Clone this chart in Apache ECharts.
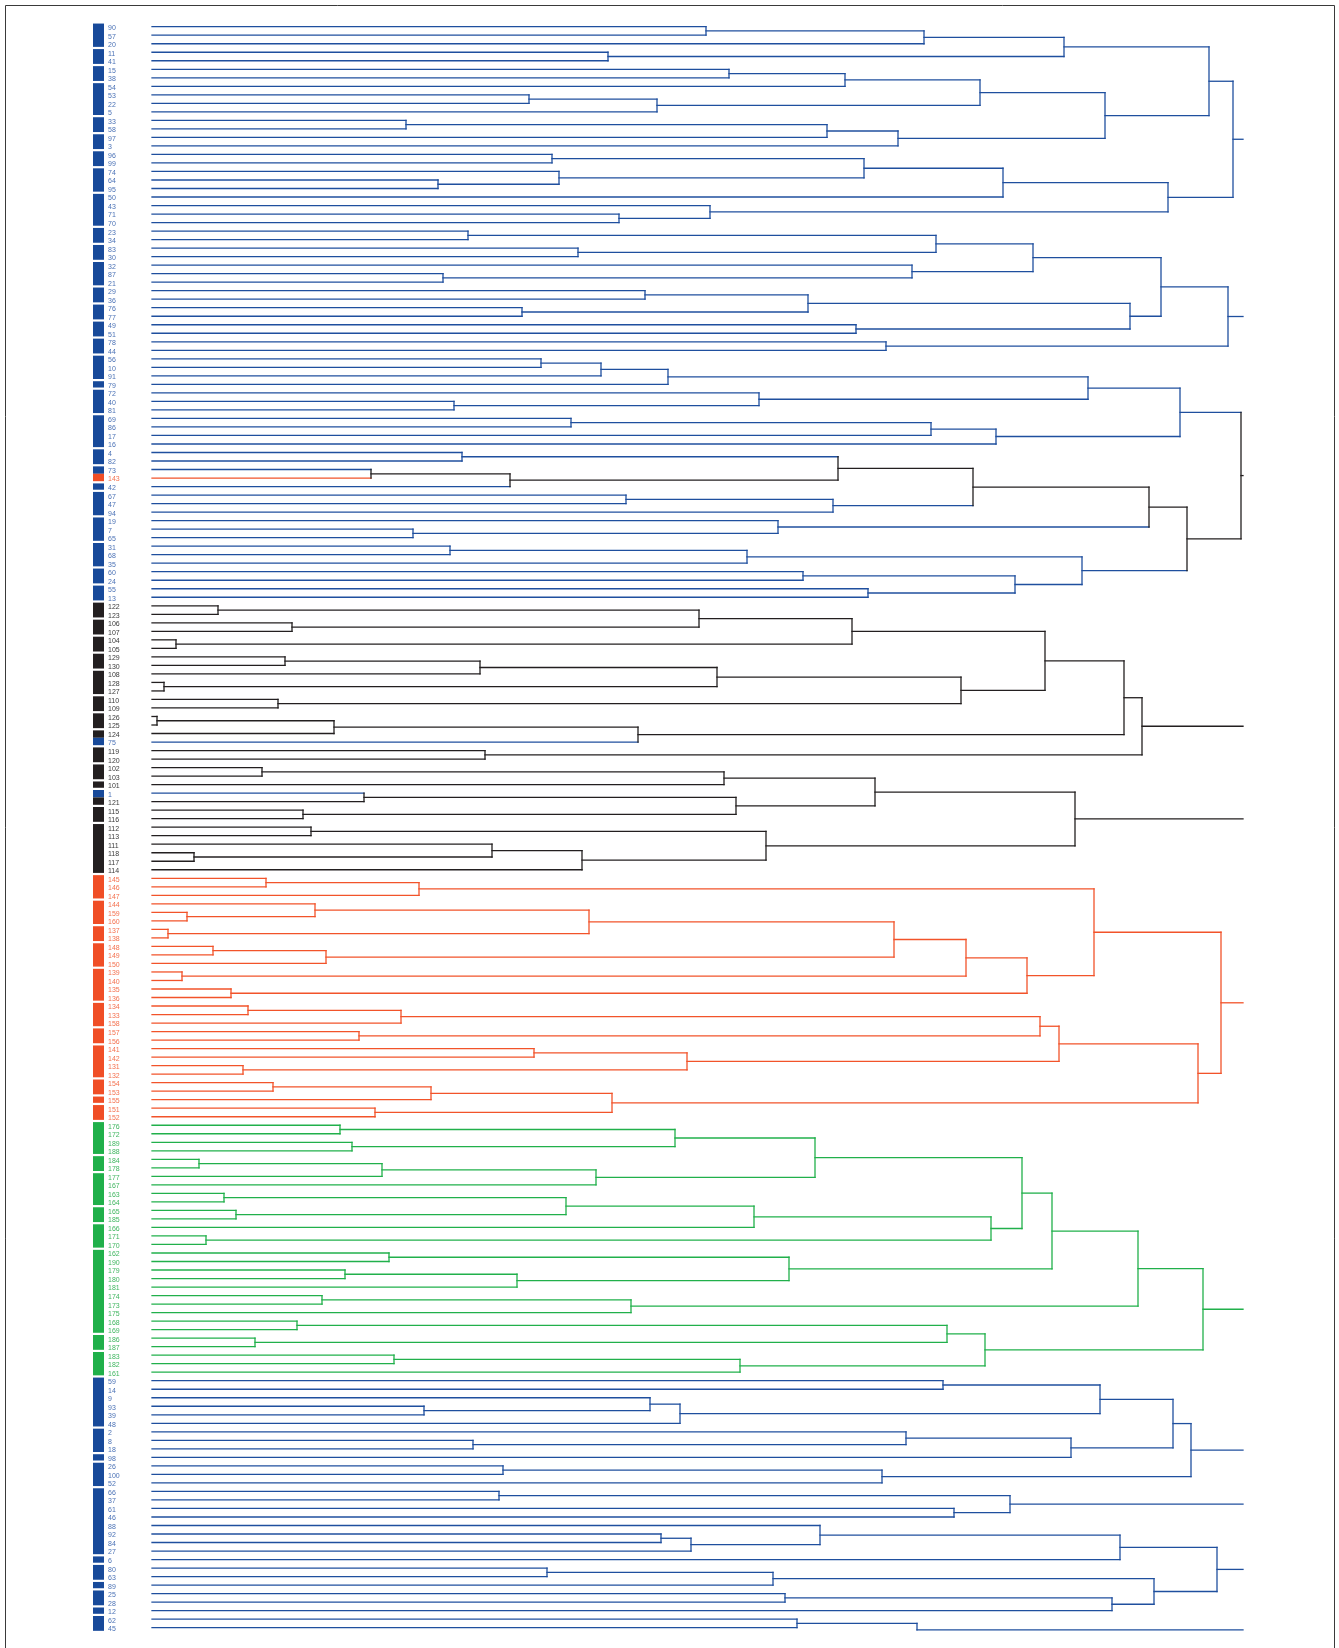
<!DOCTYPE html>
<html><head><meta charset="utf-8">
<script src="https://cdn.jsdelivr.net/npm/echarts@6/dist/echarts.min.js"></script>
<style>html,body{margin:0;padding:0;background:#fff}#c{width:1339px;height:1648px}</style>
</head><body><div id="c"></div>
<script>
// Leaf labels in display order (top to bottom)
const leafLabels = [
'90','57','20','11','41','15','38','54','53','22','5','33','58','97','3','96','99','74','64','95','50','43','71','70',
'23','34','83','30','32','87','21','29','36','76','77','49','51','78','44','56','10','91','79','72','40','81','69','86',
'17','16','4','82','73','143','42','67','47','94','19','7','65','31','68','35','60','24','55','13','122','123','106','107',
'104','105','129','130','108','128','127','110','109','126','125','124','75','119','120','102','103','101','1','121','115','116','112','113',
'111','118','117','114','145','146','147','144','159','160','137','138','148','149','150','139','140','135','136','134','133','158','157','156',
'141','142','131','132','154','153','155','151','152','176','172','189','188','184','178','177','167','163','164','165','185','166','171','170',
'162','190','179','180','181','174','173','175','168','169','186','187','183','182','161','59','14','9','93','39','48','2','8','18',
'98','26','100','52','66','37','61','46','88','92','84','27','6','80','63','89','25','28','12','62','45'
];
// class upper bounds of sample numbers: blue <=100, black <=130, red <=160, green <=190
const classBounds = [[100,'blue'],[130,'black'],[160,'red'],[190,'green']];
// sizes of the blocks of the left colour strip (consecutive leaves)
const stripBlocks = [3,2,2,4,2,2,2,3,4, 2,2,3,2,2,2,2, 3,1,3,4, 2,2,1,3,3,3,2,2,
 2,2,2,2,3,2,2,2,2,2,1,2,2,6, 3,3,2,3,4,3,2, 4,2,1,2, 4,2,4,2,3, 10,2,3, 6,3, 1,3,8,1,2,1,2,1,2];
// merges: [node, childA, childB, height]
const merges = [
['A1','90','57',554],['A2','A1','20',772],['A3','11','41',456],['A4','A2','A3',912],
['A5','15','38',577],['A6','A5','54',693],['A7','53','22',377],['A8','A7','5',505],['A9','A6','A8',828],
['A10','33','58',254],['A11','A10','97',675],['A12','A11','3',746],['A13','A9','A12',953],['A14','A4','A13',1057],
['B1','96','99',400],['B2','64','95',286],['B3','74','B2',407],['B4','B1','B3',712],['B5','B4','50',851],
['B6','71','70',467],['B7','43','B6',558],['B8','B5','B7',1016],['R1','A14','B8',1081],
['C1','23','34',316],['C2','83','30',426],['C3','C1','C2',784],['C4','87','21',291],['C5','32','C4',760],
['C6','C3','C5',881],['C7','29','36',493],['C8','76','77',370],['C9','C7','C8',656],['C10','49','51',704],
['C11','C9','C10',978],['C12','C6','C11',1009],['C13','78','44',734],['R2','C12','C13',1076],
['D1','56','10',389],['D2','D1','91',449],['D3','D2','79',516],['D4','40','81',302],['D5','72','D4',607],
['D6','D3','D5',936],['D7','69','86',419],['D8','D7','17',779],['D9','D8','16',844],['D10','D6','D9',1028],
['E1','4','82',310],['E2','73','143',219],['E3','E2','42',358],['E4','E1','E3',686],['E5','67','47',474],
['E6','E5','94',681],['E7','E4','E6',821],['E8','7','65',261],['E9','19','E8',626],['E10','E7','E9',997],
['E11','31','68',298],['E12','E11','35',595],['E13','60','24',651],['E14','55','13',716],['E15','E13','E14',863],
['E16','E12','E15',930],['E17','E10','E16',1035],['R3','D10','E17',1089],
['F1','122','123',66],['F2','106','107',140],['F3','F1','F2',547],['F4','104','105',24],['F5','F3','F4',700],
['F6','129','130',133],['F7','F6','108',328],['F8','128','127',12],['F9','F7','F8',565],['F10','110','109',126],
['F11','F9','F10',809],['F12','F5','F11',893],['F13','126','125',5],['F14','F13','124',182],['F15','F14','75',486],
['F16','F12','F15',972],['F17','119','120',333],['R4','F16','F17',990],
['G1','102','103',110],['G2','G1','101',572],['G3','1','121',212],['G4','115','116',151],['G5','G3','G4',584],
['G6','G2','G5',723],['G7','112','113',159],['G8','118','117',42],['G9','111','G8',340],['G10','G9','114',430],
['G11','G7','G10',614],['R5','G6','G11',923],
['H1','145','146',114],['H2','H1','147',267],['H3','159','160',35],['H4','144','H3',163],['H5','137','138',16],
['H6','H4','H5',437],['H7','148','149',61],['H8','H7','150',174],['H9','H6','H8',742],['H10','139','140',30],
['H11','H9','H10',814],['H12','135','136',79],['H13','H11','H12',875],['H14','H2','H13',942],
['H15','134','133',96],['H16','H15','158',249],['H17','157','156',207],['H18','H16','H17',888],
['H19','141','142',382],['H20','131','132',91],['H21','H19','H20',535],['H22','H18','H21',907],
['H23','154','153',121],['H24','H23','155',279],['H25','151','152',223],['H26','H24','H25',460],
['H27','H22','H26',1046],['R6','H14','H27',1069],
['I1','176','172',188],['I2','189','188',200],['I3','I1','I2',523],['I4','184','178',47],['I5','I4','177',230],
['I6','I5','167',444],['I7','I3','I6',663],['I8','163','164',72],['I9','165','185',84],['I10','I8','I9',414],
['I11','I10','166',602],['I12','171','170',54],['I13','I11','I12',839],['I14','I7','I13',870],
['I15','162','190',237],['I16','179','180',193],['I17','I16','181',365],['I18','I15','I17',637],
['I19','I14','I18',900],['I20','174','173',170],['I21','I20','175',479],['I22','I19','I21',986],
['I23','168','169',145],['I24','186','187',103],['I25','I23','I24',795],['I26','183','182',242],
['I27','I26','161',588],['I28','I25','I27',833],['R7','I22','I28',1051],
['J1','59','14',791],['J2','93','39',272],['J3','9','J2',498],['J4','J3','48',528],['J5','J1','J4',948],
['J6','8','18',321],['J7','2','J6',754],['J8','J7','98',919],['J9','J5','J8',1021],['J10','26','100',351],
['J11','J10','52',730],['R8','J9','J11',1039],
['K1','66','37',347],['K2','61','46',802],['R9','K1','K2',858],
['L1','92','84',509],['L2','L1','27',539],['L3','88','L2',668],['L4','L3','6',968],['L5','80','63',395],
['L6','L5','89',621],['L7','25','28',633],['L8','L7','12',960],['L9','L6','L8',1002],['R10','L4','L9',1065],
['M1','62','45',645]
];
const roots = ['R1','R2','R3','R4','R5','R6','R7','R8','R9','R10','M1'];
// step in a root's stub: [root, height of step, shift in leaf units]
const stubSteps = [['M1', 765, 0.75]];
const stubEnd = 1091;

const lineColors = {blue:'#1f4f9e', black:'#231f20', red:'#f2532a', green:'#21b04b'};
const stripColors = {blue:'#184a9a', black:'#231f20', red:'#f04e26', green:'#20b04a'};
const labelColors = {blue:'#4b72b6', black:'#3a3a3a', red:'#f4714f', green:'#40b660'};

function classOf(label){ const n = +label; for (const [b,c] of classBounds) if (n <= b) return c; return 'black'; }

const nodes = {};
leafLabels.forEach((l,i) => { nodes[l] = {y:i, h:0, cls:classOf(l)}; });
const segs = [];
merges.forEach(([name,a,b,h]) => {
  const A = nodes[a], B = nodes[b];
  const cls = A.cls === B.cls ? A.cls : 'black';
  segs.push({x1:A.h, y1:A.y, x2:h, y2:A.y, cls:A.cls});
  segs.push({x1:B.h, y1:B.y, x2:h, y2:B.y, cls:B.cls});
  segs.push({x1:h, y1:A.y, x2:h, y2:B.y, cls:cls});
  nodes[name] = {y:(A.y+B.y)/2, h:h, cls:cls};
});
roots.forEach(r => {
  const n = nodes[r];
  const step = stubSteps.find(s => s[0] === r);
  if (step) {
    const y2 = n.y + step[2];
    segs.push({x1:n.h, y1:n.y, x2:step[1], y2:n.y, cls:n.cls});
    segs.push({x1:step[1], y1:n.y, x2:step[1], y2:y2, cls:n.cls});
    segs.push({x1:step[1], y1:y2, x2:stubEnd, y2:y2, cls:n.cls});
  } else {
    segs.push({x1:n.h, y1:n.y, x2:stubEnd, y2:n.y, cls:n.cls});
  }
});

// strip runs: split each block into same-colour runs
const runs = [];
let pos = 0;
stripBlocks.forEach(sz => {
  const s = pos, e = pos + sz - 1;
  let rs = s;
  for (let i = s; i <= e; i++) {
    if (i === e || classOf(leafLabels[i+1]) !== classOf(leafLabels[i])) {
      runs.push({a:rs, b:i, cls:classOf(leafLabels[i]), trimTop: rs === s, trimBot: i === e});
      rs = i + 1;
    }
  }
  pos += sz;
});

const N = leafLabels.length;
const gridTop = 22.44, gridH = 1609.5;
const chart = echarts.init(document.getElementById('c'), null, {renderer:'canvas'});
chart.setOption({
  animation:false,
  backgroundColor:'#ffffff',
  grid:[
    {left:152, width:1091, top:gridTop, height:gridH},
    {left:93, width:11, top:gridTop, height:gridH}
  ],
  xAxis:[
    {type:'value', gridIndex:0, min:0, max:stubEnd, show:false},
    {type:'value', gridIndex:1, min:0, max:1, show:false}
  ],
  yAxis:[
    {type:'value', gridIndex:0, min:-0.5, max:N-0.5, inverse:true, show:false},
    {type:'value', gridIndex:1, min:-0.5, max:N-0.5, inverse:true, show:false}
  ],
  graphic:[{type:'rect', shape:{x:5.5, y:5.5, width:1329, height:1700}, style:{fill:'none', stroke:'#3a3a3a', lineWidth:1}, silent:true}],
  series:[
    {
      type:'custom', xAxisIndex:0, yAxisIndex:0, silent:true,
      data: segs.map(s => [s.x1, s.y1, s.x2, s.y2]),
      encode:{x:[0,2], y:[1,3]},
      renderItem:(params, api) => {
        const s = segs[params.dataIndex];
        const p1 = api.coord([s.x1, s.y1]), p2 = api.coord([s.x2, s.y2]);
        return {type:'line', shape:{x1:p1[0], y1:p1[1], x2:p2[0], y2:p2[1]},
          style:{stroke:lineColors[s.cls], lineWidth:1.3, lineCap:'square'}};
      }
    },
    {
      type:'custom', xAxisIndex:1, yAxisIndex:1, silent:true,
      data: runs.map(r => [0, r.a, 1, r.b]),
      encode:{x:[0,2], y:[1,3]},
      renderItem:(params, api) => {
        const r = runs[params.dataIndex];
        const p0 = api.coord([0, r.a - 0.5 + (r.trimTop ? 0.13 : 0)]);
        const p1 = api.coord([1, r.b + 0.5 - (r.trimBot ? 0.13 : 0)]);
        return {type:'rect', shape:{x:p0[0], y:p0[1], width:p1[0]-p0[0], height:p1[1]-p0[1]},
          style:{fill:stripColors[r.cls]}};
      }
    },
    {
      type:'custom', xAxisIndex:1, yAxisIndex:1, silent:true,
      data: leafLabels.map((l,i) => [1, i]),
      encode:{x:0, y:1},
      renderItem:(params, api) => {
        const i = params.dataIndex, l = leafLabels[i];
        const p = api.coord([1, i]);
        return {type:'text', x:p[0]+4, y:p[1]+1.5,
          style:{text:l, fill:labelColors[classOf(l)], fontSize:7, fontFamily:'Liberation Sans, Arial, sans-serif',
            align:'left', verticalAlign:'middle'}};
      }
    }
  ]
});
</script>
</body></html>
